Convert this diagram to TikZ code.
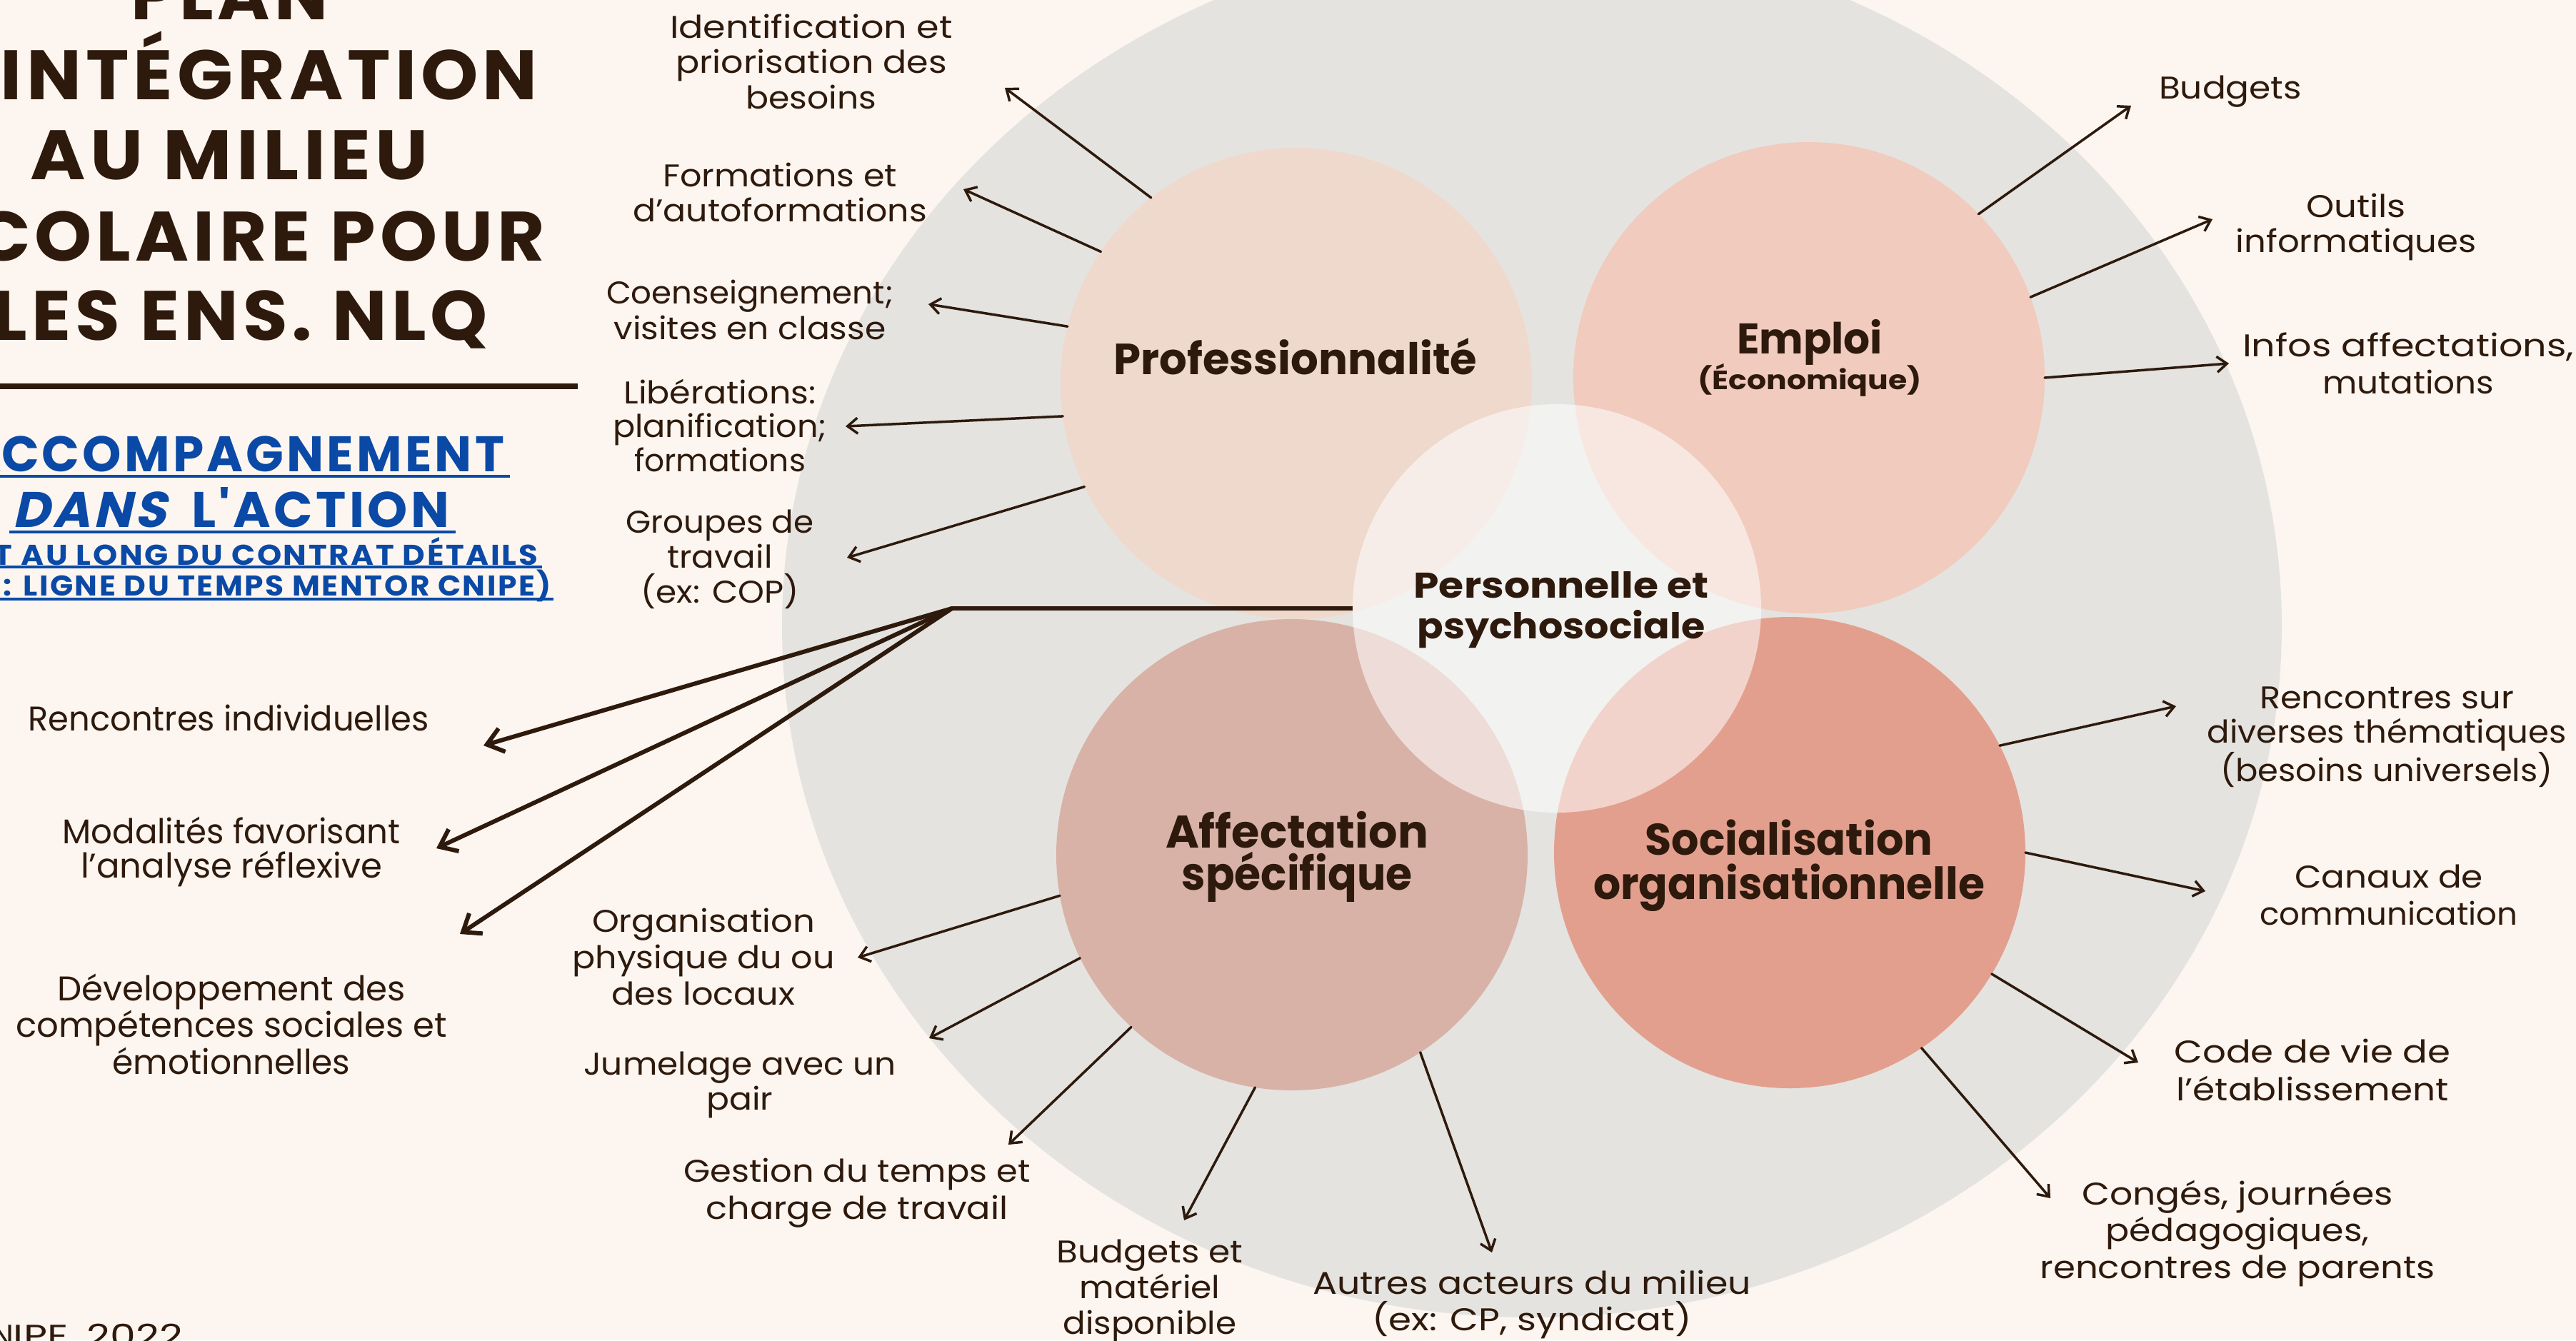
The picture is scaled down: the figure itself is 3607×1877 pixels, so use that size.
\documentclass[tikz,border=0pt]{standalone}
\usepackage{fontspec}
\usepackage{graphicx}
\setmainfont{Poppins}
\newfontfamily\titlefam{Poppins}[LetterSpace=6]
\newfontfamily\slantfam{Poppins}[LetterSpace=6,BoldFeatures={FakeSlant=0.22}]
\usetikzlibrary{arrows.meta}
\definecolor{bg}{HTML}{FDF6F0}
\definecolor{grayc}{HTML}{E4E3DF}
\definecolor{profc}{HTML}{EFD9CD}
\definecolor{emplc}{HTML}{F1CBBE}
\definecolor{affc}{HTML}{D8B2A7}
\definecolor{socc}{HTML}{E39F8E}
\definecolor{ink}{HTML}{2E1A0D}
\definecolor{blu}{HTML}{0A4AA6}
\newsavebox\fitbox
\newdimen\fitdim
\newcommand\fitto[2]{\sbox\fitbox{#2}\fitdim=\wd\fitbox\pgfmathsetmacro\fitr{#1/\fitdim}\scalebox{\fitr}[1]{\usebox\fitbox}}
\begin{document}
\begin{tikzpicture}[x=1pt,y=-1pt,
  every node/.style={inner sep=0pt,outer sep=0pt},
  disc/.style={circle,minimum size=660pt},
  lab/.style={text=ink,align=center,anchor=base,font=\fontsize{44}{50}\selectfont},
  biglab/.style={text=ink,align=center,anchor=base,font=\fontsize{48}{51}\selectfont},
  cl/.style={text=ink,align=center,anchor=base},
  ttl/.style={text=ink,font=\titlefam\bfseries\fontsize{98}{113}\selectfont},
  bl/.style={text=blu,font=\titlefam\bfseries\fontsize{70}{80}\selectfont},
  bls/.style={text=blu,font=\titlefam\bfseries\fontsize{40}{44}\selectfont},
  thinarr/.style={draw=ink,line width=3.5pt,line cap=round,-{Straight Barb[length=14pt,width=22pt]}},
  thickarr/.style={draw=ink,line width=6pt,line cap=round,-{Straight Barb[length=22pt,width=34pt]}},
  thickline/.style={draw=ink,line width=6pt},
  uline/.style={draw=blu,line width=4.5pt}]
\useasboundingbox (0,0) rectangle (3607,1877);
\clip (0,0) rectangle (3607,1877);
\fill[bg] (0,0) rectangle (3607,1877);
% big background ellipse
\fill[grayc] (2145,877) ellipse [x radius=1050pt, y radius=968pt];
% circles
\node[disc,fill=profc] (prof) at (1815,537) {};
\node[disc,fill=emplc] (emp) at (2533,529) {};
\node[disc,fill=affc] (aff) at (1809,1197) {};
\node[disc,fill=socc] (soc) at (2506,1194) {};
\node[circle,minimum size=572pt,fill=white,fill opacity=0.55] (pers) at (2180,852) {};
% circle labels (anchor = baseline of last line)
\node[cl,font=\bfseries\fontsize{61}{61}\selectfont] (lprof) at (1814,524) {\fitto{509}{Professionnalité}};
\node[cl,font=\bfseries\fontsize{60}{60}\selectfont] (lemp) at (2534,495) {\fitto{204}{Emploi}};
\node[cl,font=\bfseries\fontsize{37}{40}\selectfont] (lemp2) at (2534,545) {\fitto{314}{(Économique)}};
\node[cl,font=\bfseries\fontsize{50}{57}\selectfont] (lpers) at (2186,894) {\fitto{413}{Personnelle et}\\\fitto{403}{psychosociale}};
\node[cl,font=\bfseries\fontsize{64}{59}\selectfont] (laff) at (1816,1246) {\fitto{368}{Affectation}\\\fitto{323}{spécifique}};
\node[cl,font=\bfseries\fontsize{62}{62}\selectfont] (lsoc) at (2505,1259) {\fitto{403}{Socialisation}\\\fitto{548}{organisationnelle}};
% arrow tips
\coordinate (p1) at (1407,123);
\coordinate (p2) at (1349,265);
\coordinate (p3) at (1300,426);
\coordinate (p4) at (1184,597);
\coordinate (p5) at (1186,781);
\coordinate (e1) at (2984,148);
\coordinate (e2) at (3098,307);
\coordinate (e3) at (3121,509);
\coordinate (s1) at (3047,989);
\coordinate (s2) at (3088,1248);
\coordinate (s3) at (2994,1488);
\coordinate (s4) at (2871,1678);
\coordinate (a1) at (1201,1341);
\coordinate (a2) at (1301,1454);
\coordinate (a3) at (1412,1603);
\coordinate (a4) at (1658,1709);
\coordinate (a5) at (2089,1754);
\coordinate (junc) at (1333,852);
\coordinate (l1) at (677,1044);
\coordinate (l2) at (611,1188);
\coordinate (l3) at (644,1308);
% thin arrows
\draw[thinarr] (prof.128.1) -- (p1);
\draw[thinarr] (prof.146.3) -- (p2);
\draw[thinarr] (prof.166.9) -- (p3);
\draw[thinarr] (prof.188.1) -- (p4);
\draw[thinarr] (prof.206.8) -- (p5);
\draw[thinarr] (emp.44.1) -- (e1);
\draw[thinarr] (emp.20.9) -- (e2);
\draw[thinarr] (emp.-0.5) -- (e3);
\draw[thinarr] (soc.27.6) -- (s1);
\draw[thinarr] (soc.0) -- (s2);
\draw[thinarr] (soc.-31) -- (s3);
\draw[thinarr] (soc.-56.5) -- (s4);
\draw[thinarr] (aff.190.3) -- (a1);
\draw[thinarr] (aff.206.1) -- (a2);
\draw[thinarr] (aff.227.6) -- (a3);
\draw[thinarr] (aff.261.4) -- (a4);
\draw[thinarr] (aff.303.6) -- (a5);
% thick connectors
\draw[thickline] (pers.west) -- (junc);
\draw[thickarr] (junc) -- (l1);
\draw[thickarr] (junc) -- (l2);
\draw[thickarr] (junc) -- (l3);
% labels Professionnalite
\node[lab,font=\fontsize{44}{49.5}\selectfont] (n1) at (1136,152) {\fitto{396}{Identification et}\\\fitto{380}{priorisation des}\\\fitto{183}{besoins}};
\node[lab,font=\fontsize{44}{49}\selectfont] (n2) at (1092,310) {\fitto{328}{Formations et}\\\fitto{412}{d'autoformations}};
\node[lab,font=\fontsize{44}{50}\selectfont] (n3) at (1050,475) {\fitto{402}{Coenseignement;}\\\fitto{381}{visites en classe}};
\node[lab,font=\fontsize{44}{47.5}\selectfont] (n4) at (1008,660) {\fitto{269}{Libérations:}\\\fitto{300}{planification;}\\\fitto{240}{formations}};
\node[lab,font=\fontsize{44}{49}\selectfont] (n5) at (1008,844) {\fitto{263}{Groupes de}\\\fitto{147}{travail}\\\fitto{221}{(ex: COP)}};
% labels Emploi
\node[lab] (m1) at (3123,138) {\fitto{200}{Budgets}};
\node[lab,font=\fontsize{44}{49}\selectfont] (m2) at (3299,353) {\fitto{140}{Outils}\\\fitto{337}{informatiques}};
\node[lab,font=\fontsize{44}{52}\selectfont] (m3) at (3372,551) {\fitto{464}{Infos affectations,}\\\fitto{240}{mutations}};
% labels Socialisation
\node[lab,font=\fontsize{44}{47.5}\selectfont] (o1) at (3342,1094) {\fitto{356}{Rencontres sur}\\\fitto{503}{diverses thématiques}\\\fitto{465}{(besoins universels)}};
\node[lab,font=\fontsize{44}{52}\selectfont] (o2) at (3345,1295) {\fitto{264}{Canaux de}\\\fitto{361}{communication}};
\node[lab,font=\fontsize{44}{53}\selectfont] (o3) at (3238,1541) {\fitto{387}{Code de vie de}\\\fitto{381}{l'établissement}};
\node[lab,font=\fontsize{44}{51.5}\selectfont] (o4) at (3133,1790) {\fitto{435}{Congés, journées}\\\fitto{369}{pédagogiques,}\\\fitto{553}{rencontres de parents}};
% labels Affectation
\node[lab,font=\fontsize{44}{51}\selectfont] (q1) at (985,1407) {\fitto{312}{Organisation}\\\fitto{367}{physique du ou}\\\fitto{257}{des locaux}};
\node[lab,font=\fontsize{44}{49}\selectfont] (q2) at (1036,1554) {\fitto{438}{Jumelage avec un}\\\fitto{93}{pair}};
\node[lab,font=\fontsize{44}{52}\selectfont] (q3) at (1200,1707) {\fitto{485}{Gestion du temps et}\\\fitto{423}{charge de travail}};
\node[lab,font=\fontsize{44}{50}\selectfont] (q4) at (1610,1868) {\fitto{261}{Budgets et}\\\fitto{197}{matériel}\\\fitto{243}{disponible}};
\node[lab,font=\fontsize{44}{51}\selectfont] (q5) at (2145,1863) {\fitto{614}{Autres acteurs du milieu}\\\fitto{448}{(ex: CP, syndicat)}};
% left labels
\node[biglab] (r1) at (320,1023) {\fitto{561}{Rencontres individuelles}};
\node[biglab,font=\fontsize{48}{48}\selectfont] (r2) at (324,1229) {\fitto{473}{Modalités favorisant}\\\fitto{422}{l'analyse réflexive}};
\node[biglab,font=\fontsize{48}{51.5}\selectfont] (r3) at (324,1504) {\fitto{488}{Développement des}\\\fitto{603}{compétences sociales et}\\\fitto{333}{émotionnelles}};
% title
\node[ttl,anchor=base] (t0) at (321,27) {\fitto{276}{PLAN}};
\node[ttl,anchor=base east] (t1) at (753,139) {D'\fitto{752}{INTÉGRATION}};
\node[ttl,anchor=base] (t2) at (321,251) {\fitto{557}{AU MILIEU}};
\node[ttl,anchor=base east] (t3) at (763,365) {S\fitto{798}{COLAIRE POUR}};
\node[ttl,anchor=base east] (t4) at (683,476) {\fitto{693}{LES ENS. NLQ}};
\draw[ink,line width=8pt] (0,541) -- (809,541);
% blue heading
\node[bl,anchor=base east] (b1) at (706,660) {A\fitto{704}{CCOMPAGNEMENT}};
\node[bl,anchor=base west] (b2) at (17,738) {\fitto{612}{{\slantfam\bfseries DANS}\hspace{16pt} L'ACTION}};
\node[bls,anchor=base east] (b3) at (753,791) {(TOU\fitto{761}{T AU LONG DU CONTRAT DÉTAILS}};
\node[bls,anchor=base east] (b4) at (772,834) {(VOIR \fitto{767}{: LIGNE DU TEMPS MENTOR CNIPE)}};
\draw[uline] (0,667) -- (714,667);
\draw[uline] (13,745) -- (638,745);
\draw[uline] (0,794) -- (759,794);
\draw[uline] (0,839) -- (775,839);
% credit
\node[lab,anchor=base east] (cr) at (256,1886) {CN\fitto{237}{IPE, 2022}};
\end{tikzpicture}
\end{document}
